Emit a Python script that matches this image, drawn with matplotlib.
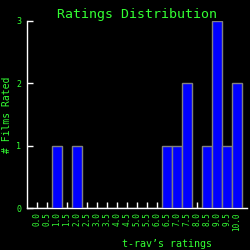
import numpy as np
import matplotlib.pyplot as plt

# ratings 0.0 .. 10.0 in half steps
ratings = ["0.0", "0.5", "1.0", "1.5", "2.0", "2.5", "3.0", "3.5", "4.0", "4.5",
           "5.0", "5.5", "6.0", "6.5", "7.0", "7.5", "8.0", "8.5", "9.0", "9.5", "10.0"]
counts = [0, 0, 1, 0, 1, 0, 0, 0, 0, 0,
          0, 0, 0, 1, 1, 2, 0, 1, 3, 1, 2]

green = "#33ff33"
plt.rcParams['font.family'] = ['DejaVu Sans Mono']

fig = plt.figure(figsize=(2.5, 2.5), dpi=100, facecolor="black")
ax = fig.add_axes([0.107, 0.168, 0.881, 0.749], facecolor="black")

x = np.arange(len(ratings))
ax.bar(x, counts, width=0.95, color="#0000ff", edgecolor="#808080",
       linewidth=1, zorder=3)

ax.set_xlim(-1, len(ratings))
ax.set_ylim(0, 3)
ax.set_xticks(x)
ax.set_xticklabels(ratings, rotation=90, fontsize=5.5, color=green)
ax.set_yticks([0, 1, 2, 3])
ax.set_yticklabels(["0", "1", "2", "3"], fontsize=6, color=green)
ax.tick_params(axis='x', direction='in', length=4, width=1, color='white', pad=3)
ax.tick_params(axis='y', direction='in', length=4, width=1, color='white', pad=4)

for s in ['top', 'right']:
    ax.spines[s].set_visible(False)
for s in ['left', 'bottom']:
    ax.spines[s].set_color('white')
    ax.spines[s].set_linewidth(1)

ax.set_title("Ratings Distribution", color=green, fontsize=9.5, pad=2)
ax.set_xlabel("t-rav\u2019s ratings", color=green, fontsize=7.2, va='center')
ax.xaxis.set_label_coords(0.639, -0.192)
ax.set_ylabel("# Films Rated", color=green, fontsize=7, va='center')
ax.yaxis.set_label_coords(-0.089, 0.5)

fig.savefig("out.png", dpi=100, facecolor="black")
